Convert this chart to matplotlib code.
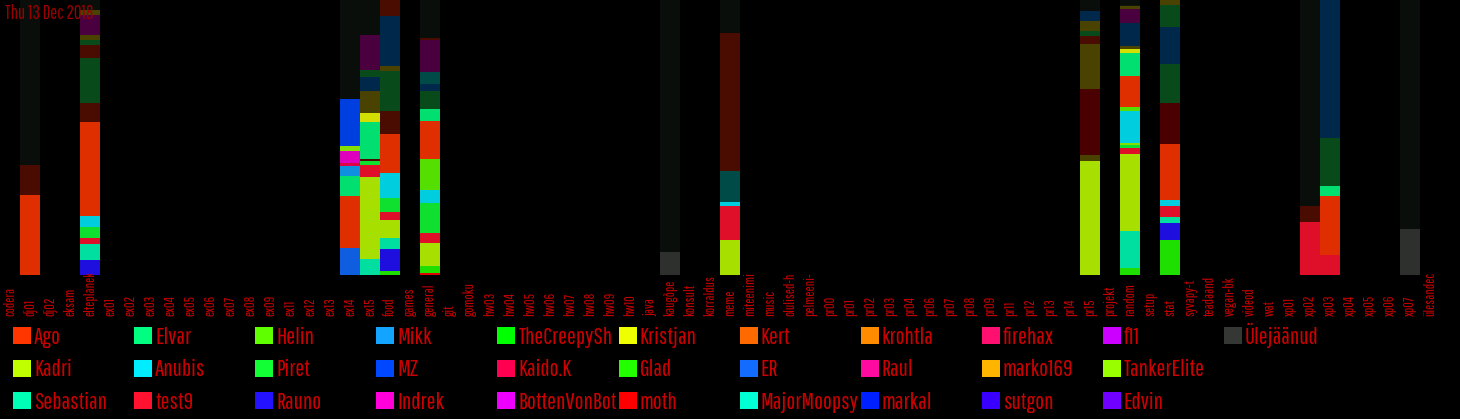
import matplotlib
matplotlib.use('Agg')
import matplotlib.pyplot as plt
from matplotlib.patches import Rectangle
from matplotlib.transforms import Bbox

plt.rcParams['font.family'] = ['Pathway Gothic One', 'DejaVu Sans']

# kanalid (x-telg)
categories = ['codera', 'dj01', 'dj02', 'eksam', 'elteplanek', 'ex01', 'ex02', 'ex03', 'ex04',
              'ex05', 'ex06', 'ex07', 'ex08', 'ex09', 'ex11', 'ex12', 'ex13', 'ex14', 'ex15',
              'food', 'games', 'general', 'git', 'gomoku', 'hw03', 'hw04', 'hw05', 'hw06',
              'hw07', 'hw08', 'hw09', 'hw10', 'java', 'kaugõpe', 'konsult', 'korraldus', 'meme',
              'miteenimi', 'music', 'olulised-h', 'pelmeeni-', 'pr00', 'pr01', 'pr02', 'pr03',
              'pr04', 'pr06', 'pr07', 'pr08', 'pr09', 'pr11', 'pr12', 'pr13', 'pr14', 'pr15',
              'projekt', 'random', 'setup', 'stat', 'syvapy-t', 'teadaand', 'vegan-bk', 'videod',
              'wat', 'xp01', 'xp02', 'xp03', 'xp04', 'xp05', 'xp06', 'xp07', 'ülesandec']

# legendi kasutajad (veerukaupa, 3 rida)
users = ['Ago', 'Kadri', 'Sebastian', 'Elvar', 'Anubis', 'test9', 'Helin', 'Piret', 'Rauno',
         'Mikk', 'MZ', 'Indrek', 'TheCreepySh', 'Kaido.K', 'BottenVonBot', 'Kristjan', 'Glad',
         'moth', 'Kert', 'ER', 'MajorMoopsy', 'krohtla', 'Raul', 'markal', 'firehax',
         'marko169', 'sutgon', 'f11', 'TankerElite', 'Edvin', 'Ülejäänud']
user_colors = ['#ff3600', '#bfff00', '#00ffb6', '#00ff80', '#00ecff', '#ff1230', '#60ff00',
               '#12ff36', '#2412ff', '#12a4ff', '#0048ff', '#ff00da', '#00ff00', '#ff0050',
               '#ee00ff', '#f0ff00', '#24ff00', '#ff0000', '#ff6a00', '#126cff', '#00ffd5',
               '#ff8c00', '#ff0aa0', '#0020ff', '#ff1070', '#ffb400', '#3a00ff', '#cc00ff',
               '#99ff00', '#7000ff', '#353735']

# ülejäänud (legendita) kasutajad, tumedad toonid
others = ['_blank', '_red', '_maroon', '_green', '_purple', '_navy', '_olive', '_teal']
other_colors = ['#0c110c', '#550e00', '#550000', '#0b551e', '#550049', '#002e55', '#554c00',
                '#005552']

# tulbad: kanal, kasutajad alt üles, osakaal %
bar_channels = ['dj01', 'elteplanek', 'ex14', 'ex15', 'food', 'general', 'kaugõpe', 'meme',
                'pr15', 'random', 'stat', 'xp02', 'xp03', 'xp07']
bar_users = [
    ['Ago', '_red', '_blank'],
    ['Rauno', 'Sebastian', 'test9', 'Piret', 'Anubis', 'Ago', '_red', '_green', '_red',
     '_green', '_olive', '_purple', '_olive', '_blank'],
    ['ER', 'Ago', 'Elvar', 'Mikk', 'Kaido.K', 'Indrek', 'TankerElite', 'MZ', '_blank'],
    ['Sebastian', 'Kadri', 'test9', 'Piret', '_red', 'Elvar', 'Kristjan', '_olive', '_navy',
     '_green', '_purple', '_blank'],
    ['Glad', 'Rauno', 'Sebastian', 'Kadri', 'test9', 'Piret', 'Anubis', 'Ago', '_red', '_green',
     '_olive', '_navy', '_red'],
    ['moth', 'Glad', 'Kadri', 'test9', 'Piret', 'Anubis', 'Helin', 'Ago', 'Elvar', '_green',
     '_navy', '_teal', '_purple', '_red', '_blank'],
    ['Ülejäänud', '_blank'],
    ['Kadri', 'test9', 'Anubis', '_teal', '_red', '_blank'],
    ['Kadri', '_olive', '_maroon', '_olive', '_red', '_green', '_olive', '_navy', '_blank'],
    ['Glad', 'Sebastian', 'Kadri', 'test9', 'Piret', 'TankerElite', 'Anubis', 'Helin', 'Ago',
     'Elvar', 'Kristjan', '_olive', '_navy', '_purple', '_olive', '_blank'],
    ['Glad', 'Rauno', 'Sebastian', 'test9', 'Anubis', 'Ago', '_maroon', '_green', '_navy',
     '_green', '_olive'],
    ['test9', '_red', '_blank'],
    ['test9', 'Ago', 'Elvar', '_green', '_navy'],
    ['Ülejäänud', '_blank'],
]
bar_shares = [
    [29.1, 10.9, 60.0],
    [5.5, 5.8, 2.2, 4.0, 4.0, 34.2, 6.9, 16.4, 4.7, 1.8, 1.8, 7.3, 1.8, 3.5],
    [9.8, 18.9, 7.3, 3.6, 1.1, 4.4, 1.8, 17.1, 36.0],
    [5.8, 29.8, 4.4, 1.5, 0.7, 13.5, 3.3, 8.0, 5.1, 2.5, 12.7, 12.7],
    [1.5, 8.0, 4.0, 6.5, 2.9, 5.1, 9.1, 14.2, 8.4, 14.5, 1.8, 18.2, 5.8],
    [0.7, 2.5, 8.5, 3.6, 11.0, 4.7, 11.3, 13.8, 4.4, 6.5, 2.5, 4.4, 11.6, 0.7, 13.8],
    [8.4, 91.6],
    [12.7, 12.4, 1.5, 11.3, 50.2, 11.9],
    [41.5, 2.2, 24.0, 16.4, 2.9, 1.8, 3.6, 3.6, 4.0],
    [2.5, 13.5, 28.0, 2.2, 1.1, 0.7, 11.6, 1.5, 11.3, 8.4, 1.5, 1.1, 8.4, 5.1, 1.1, 2.0],
    [12.7, 6.2, 2.2, 4.0, 2.2, 20.4, 14.9, 14.2, 13.5, 8.0, 1.8],
    [19.3, 5.8, 74.9],
    [7.3, 21.5, 3.6, 17.5, 50.1],
    [16.7, 83.3],
]

colors = dict(zip(users + others, user_colors + other_colors))

W, H = 1460, 419
fig = plt.figure(figsize=(W / 100, H / 100), dpi=100, facecolor='black')
ax = fig.add_axes([0, 1 - 275 / H, 1, 275 / H])
ax.set_facecolor('black')

for ch, us, sh in zip(bar_channels, bar_users, bar_shares):
    x = categories.index(ch)
    total = sum(sh)
    bottom = 0
    for u, s in zip(us, sh):
        v = s * 100 / total
        ax.bar(x, v, bottom=bottom, width=1.0, color=colors[u], alpha=0.88, linewidth=0)
        bottom += v

ax.set_xlim(-0.5, len(categories) + 0.5)
ax.set_ylim(0, 100)
ax.set_yticks([])
ax.set_xticks(range(len(categories)))
ax.set_xticklabels(categories, rotation=90, va='bottom', ha='center', color='#c80000', fontsize=10)
ax.tick_params(axis='x', length=0, pad=29.5)
# sildid lõigatakse joonise alumise serva kohal ära
label_clip = Bbox.from_extents(0, 0, W, H - 274)
for lbl in ax.get_xticklabels():
    lbl.set_clip_box(label_clip)
    lbl.set_clip_on(True)
for s in ax.spines.values():
    s.set_visible(False)

fig.text(5 / W, 1 - 19 / H, 'Thu 13 Dec 2018', color='#990000', fontsize=13.5, va='baseline')

# legend, käsitsi: 11 veergu x 3 rida
for i, (u, c) in enumerate(zip(users, user_colors)):
    col, row = divmod(i, 3)
    x0 = 13 + 121.1 * col
    ybot = 344 + 32.5 * row
    fig.add_artist(Rectangle((x0 / W, 1 - ybot / H), 18 / W, 17 / H,
                             transform=fig.transFigure, color=c, linewidth=0))
    t = fig.text((x0 + 21) / W, 1 - ybot / H, u, color='#cc0000', fontsize=17, va='baseline')
    t.set_clip_box(Bbox.from_extents(x0 + 20, 0, x0 + 121, H))
    t.set_clip_on(True)

fig.savefig('out.png', dpi=100, facecolor='black')
